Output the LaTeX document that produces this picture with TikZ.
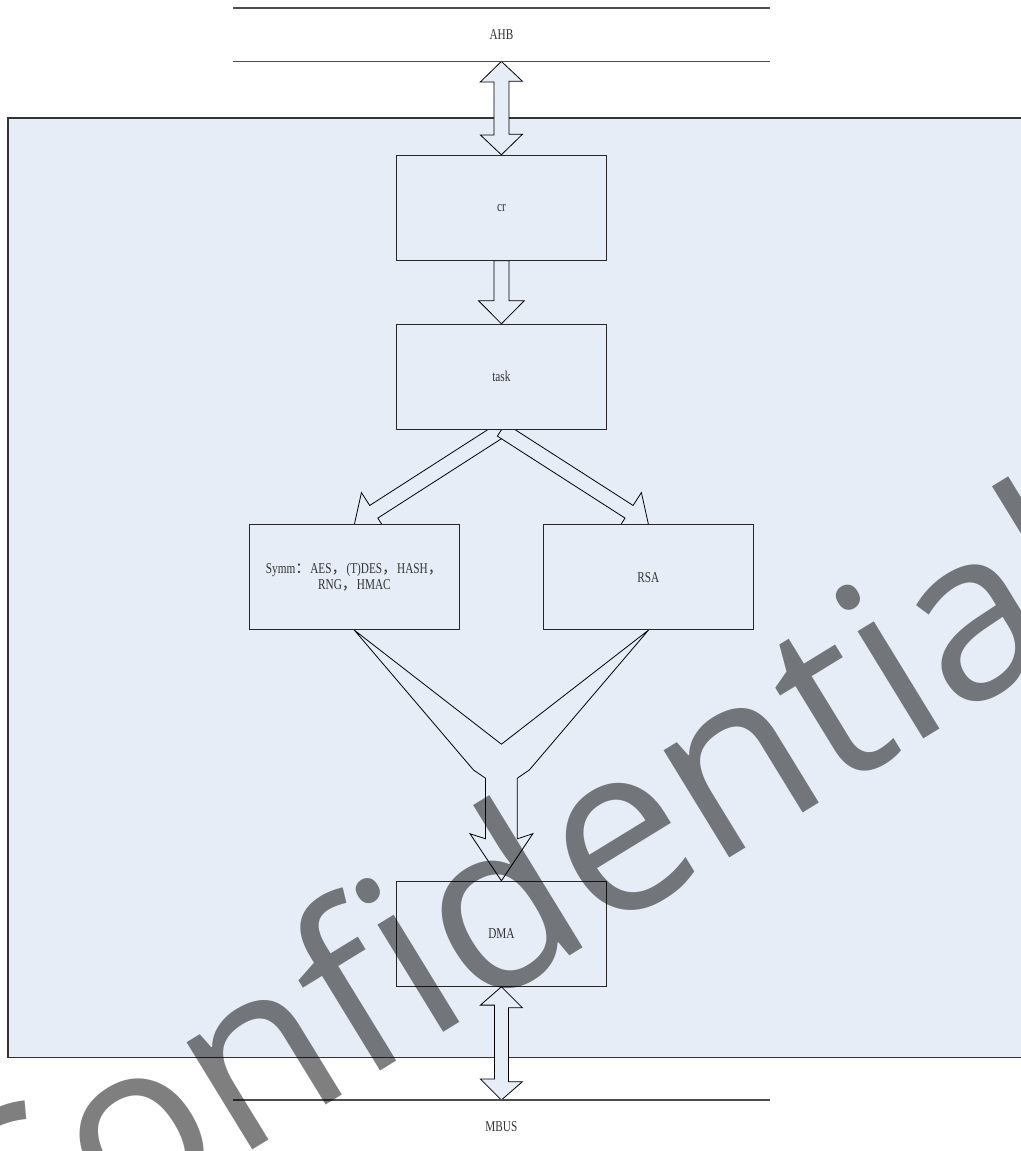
\documentclass[tikz,border=0pt]{standalone}
\usepackage{fontspec}
\usepackage{xcolor}
\usepackage{tikz}
\usetikzlibrary{positioning, calc, backgrounds}
\setmainfont{Liberation Serif}
\newfontfamily\diagfont[FakeStretch=0.75]{Liberation Serif}
\newfontfamily\cjk{Noto Sans CJK SC}
\newfontfamily\wmfont{Open Sans}
\definecolor{panelblue}{HTML}{E6EDF7}
\pgfdeclarelayer{arrowlayer}
\pgfsetlayers{background,arrowlayer,main}

\begin{document}
\begin{tikzpicture}[x=1pt, y=1pt,
   font=\diagfont\fontsize{15pt}{16.6pt}\selectfont, node distance = 63pt,
   unit/.style = {rectangle, draw=black!85, line width=1pt, fill=panelblue,
                  minimum width=210pt, minimum height=105pt, align=center, text=black!80},
   bus/.style = {minimum width=536pt, minimum height=53pt, inner sep=0pt, text=black!80},
   busline/.style = {draw=black!70, line width=1.2pt},
   blockarrow/.style = {draw=black, line width=0.8pt, fill=panelblue, line join=miter}]
  \useasboundingbox (0,0) rectangle (1020,-1151);

  \node[bus] (ahb)  at (501.4,-34.7)   {AHB};
  \node[bus] (mbus) at (501.4,-1126.7) {MBUS};
  \draw[busline] (ahb.north west) -- (ahb.north east);
  \draw[busline] (ahb.south west) -- (ahb.south east);
  \draw[busline] (mbus.north west) -- (mbus.north east);

  \node[unit] (cr) at (501.4,-207.8) {cr};
  \node[unit, below=of cr] (task) {task};
  \node[unit, below=94.4pt of task, xshift=-147pt] (symm)
       {Symm{\cjk ：}AES{\cjk ，}(T)DES{\cjk ，}HASH{\cjk ，}\\RNG{\cjk ，}HMAC};
  \node[unit, below=94.4pt of task, xshift=147pt] (rsa) {RSA};
  \node[unit, below=451pt of task] (dma) {DMA};

  \begin{pgfonlayer}{background}
    \draw[draw=black!80, line width=1.3pt, fill=panelblue] (8,-118) rectangle (1040,-1057.5);
  \end{pgfonlayer}

  \begin{pgfonlayer}{arrowlayer}
    \draw[blockarrow] (cr.north) -- ++(21,20.5) -- ++(-13.5,0) -- ++(0,53.1) -- ++(13.5,0)
        -- (ahb.south) -- ++(-21,-20.5) -- ++(13.5,0) -- ++(0,-53.1) -- ++(-13.5,0) -- cycle;
    \draw[blockarrow] (cr.south) -- ++(7.5,0) -- ++(0,-40) -- ++(15.3,0) -- (task.north)
        -- ++(-22.8,23) -- ++(15.3,0) -- ++(0,40) -- cycle;
    \foreach \tgt in {symm, rsa} {
      \coordinate (hb) at ($(\tgt.north)!23pt!(task.south)$);
      \draw[blockarrow] ($(task.south)!7.5pt!90:(\tgt.north)$) -- ($(hb)!7.5pt!90:(\tgt.north)$)
          -- ($(hb)!22.8pt!90:(\tgt.north)$) -- (\tgt.north) -- ($(hb)!22.8pt!-90:(\tgt.north)$)
          -- ($(hb)!7.5pt!-90:(\tgt.north)$) -- ($(task.south)!7.5pt!-90:(\tgt.north)$) -- cycle;
    }
    \draw[blockarrow] (symm.south) -- ($(dma.north)+(-27.9,110.8)$) -- ($(dma.north)+(-15.9,102.6)$)
        -- ($(dma.north)+(-15.9,42)$) -- ($(dma.north)+(-31.4,47.1)$) -- (dma.north)
        -- ($(dma.north)+(31.4,47.1)$) -- ($(dma.north)+(15.9,42)$) -- ($(dma.north)+(15.9,102.6)$)
        -- ($(dma.north)+(27.9,110.8)$) -- (rsa.south) -- ($(dma.north)+(0,136.6)$) -- cycle;
    \draw[blockarrow] (dma.south) -- ++(21,-21) -- ++(-14,0) -- ++(0,-73.9) -- ++(14,0)
        -- (mbus.north) -- ++(-21,21) -- ++(14,0) -- ++(0,73.9) -- ++(-14,0) -- cycle;
  \end{pgfonlayer}

  \node[anchor=base west, rotate=31.5, inner sep=0pt, text=black, text opacity=0.5,
        font=\wmfont\fontsize{235pt}{240pt}\selectfont] (mark) at (-12,-1312) {Confidential};
\end{tikzpicture}
\end{document}
